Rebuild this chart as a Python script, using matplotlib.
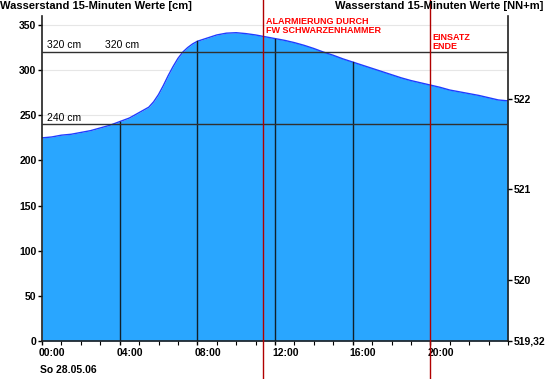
import matplotlib
matplotlib.use("Agg")
import matplotlib.pyplot as plt
import matplotlib.transforms as mtransforms
from matplotlib.lines import Line2D
import numpy as np

# Pegel readings (hours since midnight, water level in cm)
hours = [0, 0.5, 1, 1.5, 2, 2.5, 3, 3.5, 4, 4.5, 5, 5.5, 5.75, 6, 6.25, 6.5,
         6.75, 7, 7.25, 7.5, 7.75, 8, 8.5, 9, 9.5, 10, 10.5, 11, 11.5, 12,
         12.5, 13, 13.5, 14, 14.5, 15, 15.5, 16, 16.5, 17, 17.5, 18, 18.5,
         19, 19.5, 20, 20.5, 21, 21.5, 22, 22.5, 23, 23.5, 24]
level_cm = [225, 226, 228, 229, 231, 233, 236, 239, 243, 247, 253, 259, 265,
            273, 283, 294, 304, 313, 320, 325, 329, 332, 335.5, 339, 341,
            341.5, 340.5, 339, 337, 335, 333, 330.5, 327.5, 324, 320, 316.5,
            312.5, 309, 305.5, 302, 298.5, 295, 291.5, 288.5, 286, 283.5,
            281, 278, 276, 274, 272, 269.5, 267, 266]

marker_hours = [4, 8, 12, 16]
limit_levels = [320, 240]
event_hours = [11.4, 20.0]
event_texts = ["ALARMIERUNG DURCH\nFW SCHWARZENHAMMER", "EINSATZ\nENDE"]
zero_nn = 519.32
right_ticks = [519.32, 520, 521, 522]
right_labels = ["519,32", "520", "521", "522"]

plt.rcParams['font.family'] = ['Liberation Sans', 'DejaVu Sans']

fig = plt.figure(figsize=(5.5, 3.79), dpi=100)
W, H = 550, 379
x0, x1, y0, y1 = 42, 508, 341, 16
ax = fig.add_axes([x0 / W, (H - y0) / H, (x1 - x0) / W, (y0 - y1) / H])

ax.set_xlim(0, 24)
ax.set_ylim(0, 360)

# faint grid
for g in range(50, 360, 50):
    ax.axhline(g, color="#e6e6e6", lw=0.8, zorder=0)

ax.fill_between(hours, level_cm, 0, color="#29a6ff", lw=0, zorder=1)
ax.plot(hours, level_cm, color="#1f3cff", lw=1, zorder=2)

# vertical markers up to the curve
for h in marker_hours:
    v = np.interp(h, hours, level_cm)
    ax.plot([h, h], [0, v], color="#10202a", lw=1, zorder=3)

for lv in limit_levels:
    ax.axhline(lv, color="#303030", lw=1, zorder=3)

ax.text(0.25, 322, "320 cm", fontsize=7.5, va="bottom", ha="left", zorder=4)
ax.text(3.25, 322, "320 cm", fontsize=7.5, va="bottom", ha="left", zorder=4)
ax.text(0.25, 242, "240 cm", fontsize=7.5, va="bottom", ha="left", zorder=4)

# spines & ticks
ax.spines["top"].set_visible(False)
for s in ["left", "right", "bottom"]:
    ax.spines[s].set_linewidth(1.2)
    ax.spines[s].set_color("#202020")

ax.set_yticks(range(0, 351, 50))
ax.tick_params(axis="y", labelsize=7.5, length=3, width=1, pad=1)
for lab in ax.get_yticklabels():
    lab.set_fontweight("bold")

ax.set_xticks(range(0, 24, 4))
ax.set_xticklabels(["00:00", "04:00", "08:00", "12:00", "16:00", "20:00"],
                   fontsize=7.5, fontweight="bold", ha="left")
ax.set_xticks(range(0, 25), minor=True)
ax.tick_params(axis="x", which="major", length=3, width=1, pad=2)
ax.tick_params(axis="x", which="minor", length=3, width=0.8)
shift = mtransforms.ScaledTranslation(-3 / 100, 0, fig.dpi_scale_trans)
for lab in ax.get_xticklabels():
    lab.set_transform(lab.get_transform() + shift)

ax2 = ax.twinx()
ax2.set_ylim(zero_nn, zero_nn + 3.6)
ax2.set_yticks(right_ticks)
ax2.set_yticklabels(right_labels, fontsize=7.5, fontweight="bold")
ax2.tick_params(axis="y", length=3, width=1, pad=1)
for s in ax2.spines.values():
    s.set_visible(False)

# event lines spanning whole figure
for h, txt in zip(event_hours, event_texts):
    xf = (x0 + (x1 - x0) * h / 24) / W
    fig.add_artist(Line2D([xf, xf], [0, 1], color="#b00000", lw=1,
                          transform=fig.transFigure))
ax.text(event_hours[0] + 0.12, 359, event_texts[0], color="#ff0000",
        fontsize=6.5, fontweight="bold", va="top", ha="left", linespacing=0.95)
ax.text(event_hours[1] + 0.12, 341, event_texts[1], color="#ff0000",
        fontsize=6.5, fontweight="bold", va="top", ha="left", linespacing=0.95)

fig.text(0 / W, 1 - 6 / H, "Wasserstand 15-Minuten Werte [cm]", fontsize=8,
         fontweight="bold", va="center", ha="left")
fig.text(543 / W, 1 - 6 / H, "Wasserstand 15-Minuten Werte [NN+m]", fontsize=8,
         fontweight="bold", va="center", ha="right")
fig.text(40 / W, 1 - 370 / H, "So 28.05.06", fontsize=7.5, fontweight="bold",
         va="center", ha="left")

fig.savefig("out.png", dpi=100)
